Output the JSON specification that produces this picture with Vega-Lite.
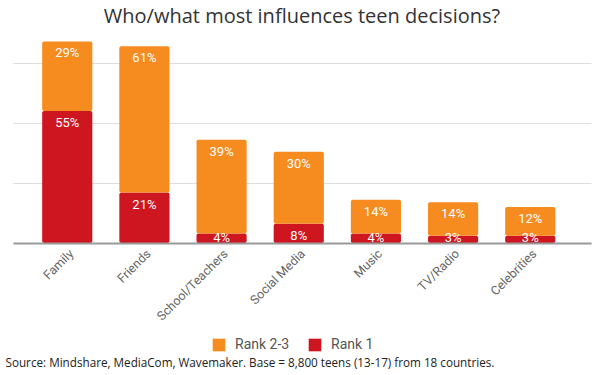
{
  "$schema": "https://vega.github.io/schema/vega-lite/v6.json",
  "width": 578,
  "height": 204,
  "autosize": {"type": "none"},
  "padding": {"left": 13, "top": 39, "right": 9, "bottom": 132},
  "background": "white",
  "config": {"view": {"stroke": null}, "font": "Roboto"},
  "title": {
    "text": "Who/what most influences teen decisions?",
    "font": "Open Sans",
    "fontSize": 20,
    "fontWeight": "normal",
    "color": "#333333",
    "anchor": "middle",
    "offset": 12
  },
  "data": {
    "values": [
      {"source": "Family", "rank": "Rank 1", "value": 55},
      {"source": "Family", "rank": "Rank 2-3", "value": 29},
      {"source": "Friends", "rank": "Rank 1", "value": 21},
      {"source": "Friends", "rank": "Rank 2-3", "value": 61},
      {"source": "School/Teachers", "rank": "Rank 1", "value": 4},
      {"source": "School/Teachers", "rank": "Rank 2-3", "value": 39},
      {"source": "Social Media", "rank": "Rank 1", "value": 8},
      {"source": "Social Media", "rank": "Rank 2-3", "value": 30},
      {"source": "Music", "rank": "Rank 1", "value": 4},
      {"source": "Music", "rank": "Rank 2-3", "value": 14},
      {"source": "TV/Radio", "rank": "Rank 1", "value": 3},
      {"source": "TV/Radio", "rank": "Rank 2-3", "value": 14},
      {"source": "Celebrities", "rank": "Rank 1", "value": 3},
      {"source": "Celebrities", "rank": "Rank 2-3", "value": 12}
    ]
  },
  "transform": [
    {"stack": "value", "groupby": ["source"], "sort": [{"field": "rank", "order": "ascending"}], "as": ["y0", "y1"]},
    {"calculate": "max(datum.y1 - 5, datum.y0 + 2)", "as": "labelY"},
    {"calculate": "datum.value + '%'", "as": "label"}
  ],
  "encoding": {
    "x": {
      "field": "source",
      "type": "nominal",
      "sort": ["Family", "Friends", "School/Teachers", "Social Media", "Music", "TV/Radio", "Celebrities"],
      "scale": {"paddingInner": 0.35, "paddingOuter": 0.42, "align": 0.45},
      "axis": {
        "labelAngle": -45,
        "labelFontSize": 12.5,
        "labelColor": "#666666",
        "labelFont": "Roboto",
        "ticks": false,
        "labelPadding": 4,
        "domainColor": "#999999",
        "domainWidth": 2,
        "grid": false,
        "zindex": 1,
        "title": "Source: Mindshare, MediaCom, Wavemaker. Base = 8,800 teens (13-17) from 18 countries.",
        "titleFont": "Open Sans",
        "titleFontSize": 11.7,
        "titleFontWeight": "normal",
        "titleColor": "#222222",
        "titleAnchor": "start",
        "titleAlign": "left",
        "titleBaseline": "alphabetic",
        "titleX": -8,
        "titleY": 123
      }
    }
  },
  "layer": [
    {
      "mark": {"type": "bar", "cornerRadiusEnd": 2},
      "encoding": {
        "y": {
          "field": "y0",
          "type": "quantitative",
          "scale": {"domain": [0, 85], "nice": false},
          "axis": {
            "values": [0, 25, 50, 75],
            "grid": true,
            "gridColor": "#dddddd",
            "labels": false,
            "ticks": false,
            "domain": false,
            "title": null
          }
        },
        "y2": {"field": "y1"},
        "color": {
          "field": "rank",
          "type": "nominal",
          "scale": {"domain": ["Rank 2-3", "Rank 1"], "range": ["#F68B1F", "#CE1620"]},
          "legend": {
            "orient": "none",
            "legendX": 199,
            "legendY": 299,
            "direction": "horizontal",
            "title": null,
            "symbolType": "square",
            "symbolSize": 160,
            "symbolStrokeWidth": 0,
            "symbolOpacity": 1,
            "labelFontSize": 14,
            "labelColor": "#555555",
            "labelFont": "Roboto",
            "labelOffset": 9,
            "columnPadding": 18
          }
        }
      }
    },
    {
      "mark": {"type": "text", "color": "white", "fontSize": 13, "font": "Roboto", "fontWeight": "normal", "baseline": "middle", "align": "center"},
      "encoding": {
        "y": {"field": "labelY", "type": "quantitative"},
        "text": {"field": "label", "type": "nominal"}
      }
    }
  ]
}
